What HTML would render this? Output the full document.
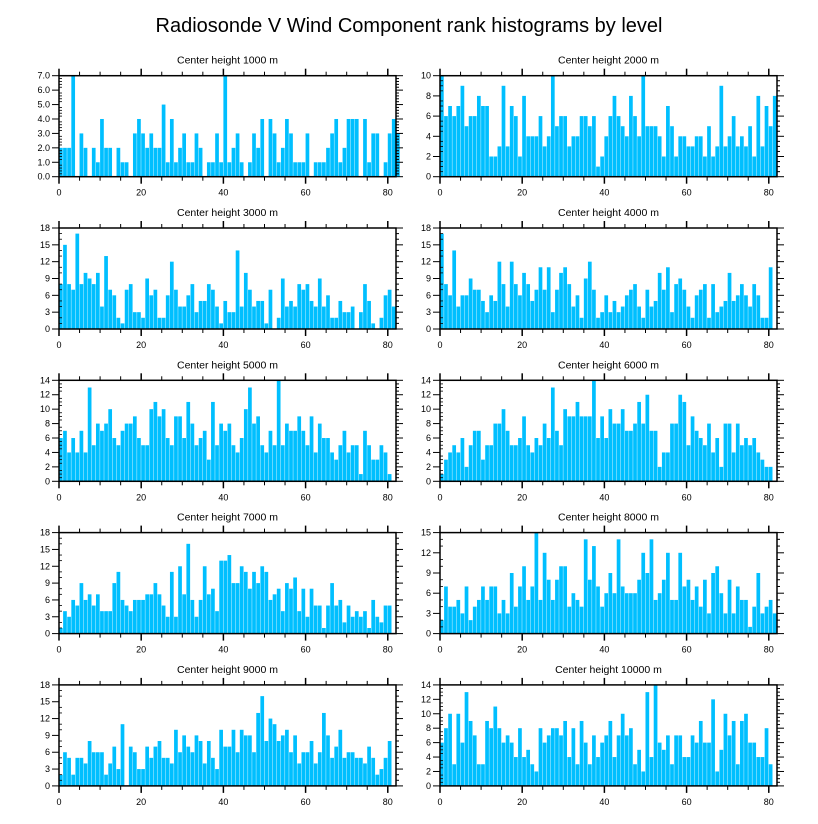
<!DOCTYPE html>
<html><head><meta charset="utf-8"><style>
body{margin:0;background:#fff;}
svg{display:block;font-family:"Liberation Sans",Arial,sans-serif;}
</style></head><body>
<svg id="chart" width="818" height="824" viewBox="0 0 818 824">
<text x="409" y="32" text-anchor="middle" font-size="20">Radiosonde V Wind Component rank histograms by level</text>
</svg>
<script>
const titles = ["Center height 1000 m","Center height 2000 m","Center height 3000 m","Center height 4000 m","Center height 5000 m","Center height 6000 m","Center height 7000 m","Center height 8000 m","Center height 9000 m","Center height 10000 m"];
const xTicks = [0,20,40,60,80];
const yMaxes = [7,10,18,18,14,14,18,15,18,14];
const yStepsArr = [1,2,3,3,2,2,3,3,3,2];
const h1000 = [2,2,2,7,0,3,2,0,2,1,4,2,2,0,2,1,1,0,3,4,3,2,3,2,2,5,1,4,1,2,3,1,1,3,2,0,1,1,3,1,7,1,2,3,1,0,1,3,2,4,0,4,3,1,2,4,3,1,1,1,3,0,1,1,1,2,3,4,1,2,4,4,4,0,4,1,3,3,0,1,3,4,3];
const h2000 = [10,6,7,6,7,9,5,6,6,8,7,7,2,2,3,9,3,7,6,2,8,4,4,4,6,3,4,10,5,6,6,3,4,4,6,6,5,6,1,2,4,6,8,6,5,4,8,6,4,10,5,5,5,4,2,7,5,2,4,4,3,3,4,4,2,5,2,3,9,3,4,6,3,4,3,5,2,8,3,7,5,8];
const h3000 = [8,15,8,7,17,8,10,9,8,10,4,13,7,6,2,1,7,8,3,3,2,9,6,7,2,2,6,12,7,4,4,6,8,3,5,5,8,7,4,1,5,3,3,14,4,10,7,4,5,5,1,7,0,2,9,4,5,4,8,7,8,5,4,9,4,6,2,2,5,3,3,4,0,3,8,5,1,0,2,6,7,4];
const h4000 = [17,8,6,14,4,6,6,9,7,7,5,3,6,5,12,8,4,12,8,6,10,8,5,7,11,7,11,3,7,10,11,8,4,6,2,9,12,7,2,3,6,3,5,3,4,6,7,8,4,2,7,4,5,10,7,11,3,8,9,7,4,2,6,7,8,2,8,3,4,5,10,5,6,8,6,4,8,6,2,2,11];
const h5000 = [6,7,4,6,4,7,4,13,5,8,7,8,10,6,5,7,8,8,9,6,5,5,10,11,9,10,6,5,9,9,6,11,8,5,6,7,3,11,5,8,7,8,5,4,6,10,13,8,9,5,4,7,5,14,5,8,7,7,9,7,5,9,4,8,6,6,4,3,5,7,4,5,5,1,7,5,3,3,5,4,1];
const h6000 = [1,3,4,5,4,6,2,5,7,7,3,5,5,8,8,10,7,5,5,6,9,5,4,6,5,8,6,13,7,5,10,9,9,11,9,9,9,14,6,9,6,10,8,8,10,7,7,8,11,8,12,7,7,2,4,4,8,8,12,11,5,9,7,6,5,8,4,6,2,8,8,4,8,5,6,5,6,4,3,2,2];
const h7000 = [1,4,3,6,5,9,6,7,5,7,4,4,4,9,11,6,5,4,6,6,6,7,7,9,7,5,3,11,3,12,7,16,6,3,6,12,7,8,4,13,13,14,9,9,12,11,8,11,9,12,11,6,7,8,4,9,8,10,4,8,3,8,5,5,1,5,9,5,6,2,5,3,4,3,4,1,6,3,2,5,5];
const h8000 = [2,7,4,4,5,3,7,2,4,5,7,5,7,7,3,5,3,9,4,7,10,5,7,15,5,12,8,5,8,10,10,4,6,5,4,14,8,13,7,4,6,9,6,14,7,6,6,6,8,12,9,14,5,6,8,12,5,5,12,7,8,5,7,4,8,3,9,10,6,3,8,3,7,5,5,1,4,9,3,4,5,3];
const h9000 = [2,6,5,2,5,5,4,8,6,6,6,2,4,7,3,11,0,7,6,3,3,7,5,7,8,5,5,4,10,6,9,7,6,9,8,4,8,5,3,10,7,7,10,6,10,9,9,6,13,16,8,12,11,8,9,10,6,9,4,6,6,8,4,6,13,9,5,7,10,5,6,6,5,5,4,7,5,2,3,5,8];
const h10000 = [6,8,10,3,10,6,13,9,7,3,3,9,8,11,8,6,7,6,4,8,4,5,3,2,8,6,7,8,8,7,9,4,8,3,9,6,3,7,4,6,7,9,4,7,10,7,8,3,5,2,13,4,14,6,5,7,3,7,7,4,4,7,6,9,6,6,12,2,5,10,7,9,3,9,10,6,6,4,4,8,3];
const series = [h1000,h2000,h3000,h4000,h5000,h6000,h7000,h8000,h9000,h10000];

const NS="http://www.w3.org/2000/svg";
const svg=document.getElementById('chart');
function mk(tag,attrs,parent){const e=document.createElementNS(NS,tag);for(const k in attrs)e.setAttribute(k,attrs[k]);(parent||svg).appendChild(e);return e;}
const PW=337, PH=101, XMAX=82;
for(let p=0;p<10;p++){
  const col=p%2, row=Math.floor(p/2);
  const L=col?440:59, T=75.7+row*152.3;
  const g=mk('g',{});
  
  
  const xs=v=>L+v/XMAX*PW;
  const ys=v=>T+PH-v/yMaxes[p]*PH;
  const t=mk('text',{x:L+PW/2,y:T-12,'text-anchor':'middle','font-size':'10.5'},g);
  t.textContent=titles[p];
  
  
  const data=series[p];
  for(let i=0;i<data.length;i++){
    if(data[i]<=0)continue;
    const r=mk('rect',{x:xs(i),y:ys(data[i]),width:xs(i+1)-xs(i)-0.4,height:ys(0)-ys(data[i]),fill:'#00bfff'},g);
    
    
  }
  const fr=mk('rect',{x:L,y:T,width:PW,height:PH,fill:'none',stroke:'#000','stroke-width':1.5},g);
  
  
  // x ticks
  for(let v=0;v<=XMAX;v+=5){
    const major=v%20===0, len=major?7:4;
    mk('line',{x1:xs(v),x2:xs(v),y1:T,y2:T-len,stroke:'#000','stroke-width':major?1.5:1},g);
    mk('line',{x1:xs(v),x2:xs(v),y1:T+PH,y2:T+PH+len,stroke:'#000','stroke-width':major?1.5:1},g);
  }
  xTicks.forEach(v=>{
    const tl=mk('text',{x:xs(v),y:T+PH+19,'text-anchor':'middle','font-size':'9'},g);
    tl.textContent=v;
    
    
  });
  // y ticks
  const st=yStepsArr[p], ym=yMaxes[p];
  const minor=st/ (st===3?3:(st===2?4:5));
  for(let v=0;v<=ym+1e-9;v+=minor){
    const isMaj=Math.abs(v/st-Math.round(v/st))<1e-6;
    const len=isMaj?7:3;
    mk('line',{x1:L,x2:L-(isMaj?7:0),y1:ys(v),y2:ys(v),stroke:'#000','stroke-width':1},g);
    if(!isMaj) mk('line',{x1:L,x2:L+3,y1:ys(v),y2:ys(v),stroke:'#000','stroke-width':0.8},g);
    mk('line',{x1:L+PW,x2:L+PW+len,y1:ys(v),y2:ys(v),stroke:'#000','stroke-width':1},g);
  }
  for(let v=0;v<=ym+1e-9;v+=st){
    const yl=mk('text',{x:L-9,y:ys(v)+3,'text-anchor':'end','font-size':'9'},g);
    yl.textContent=p===0?v.toFixed(1):v;
    
    
  }
}
</script>
</body></html>
